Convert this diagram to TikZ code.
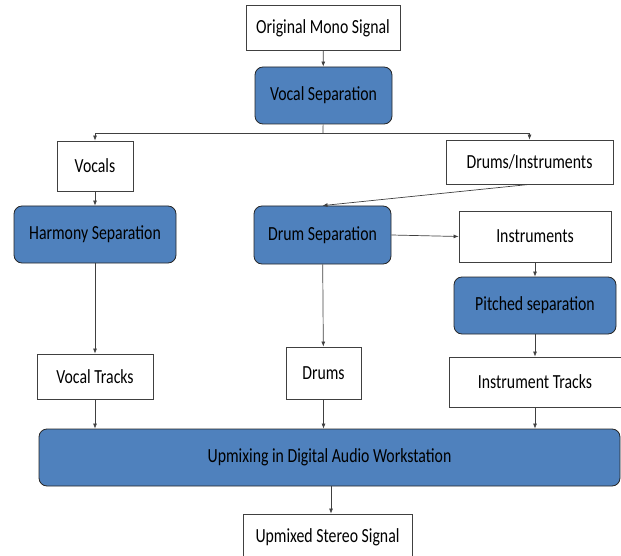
\documentclass[tikz,border=0pt]{standalone}
\usepackage{fontspec}
\setmainfont{Carlito}[FakeStretch=0.79]
\usetikzlibrary{arrows.meta}
\definecolor{boxblue}{HTML}{4F81BD}
\definecolor{linegray}{HTML}{404040}

\begin{document}
\begin{tikzpicture}[x=1pt, y=-1pt,
    plainbox/.style={draw=linegray, fill=white, line width=0.8pt, inner sep=0pt,
      font=\fontsize{20}{22}\selectfont},
    sepbox/.style={plainbox, draw=black!85, fill=boxblue, rounded corners=8pt},
    link/.style={draw=linegray, line width=0.7pt, -{Latex[length=5pt,width=4pt]}}]
      \useasboundingbox (0,0) rectangle (621,556);
      %
      \node[plainbox, minimum width=154pt, minimum height=45pt] (orig) at (323,28) {Original Mono Signal}; % top
      \node[sepbox, minimum width=137pt, minimum height=57pt] (vsep) at (323.5,95.5) {Vocal Separation};
      %
      \node[plainbox, minimum width=76pt, minimum height=50pt] (vocals) at (95,166) {Vocals};       % first split
      \node[plainbox, minimum width=167pt, minimum height=44pt] (druminst) at (529.5,162) {Drums/Instruments};
      %
      \node[sepbox, minimum width=162pt, minimum height=57pt] (harm) at (95,234.5) {Harmony Separation}; % second row
      \node[sepbox, minimum width=137pt, minimum height=58pt] (dsep) at (322.5,235) {Drum Separation};
      \node[plainbox, minimum width=152pt, minimum height=51pt] (instr) at (535,236.5) {Instruments};
      \node[sepbox, minimum width=162pt, minimum height=57pt] (pitched) at (535,305.5) {Pitched separation};
      %
      \node[plainbox, minimum width=116pt, minimum height=45pt] (vtracks) at (95,376.5) {Vocal Tracks}; % tracks
      \node[plainbox, minimum width=75pt, minimum height=52pt] (drums) at (323.5,373) {Drums};
      \node[plainbox, minimum width=172pt, minimum height=50pt] (itracks) at (535,382) {Instrument Tracks};
      %
      \node[sepbox, minimum width=581pt, minimum height=57pt] (upmix) at (329.5,457.5) {Upmixing in Digital Audio Workstation}; % bottom
      \node[plainbox, minimum width=169pt, minimum height=46pt] (stereo) at (327.5,537) {Upmixed Stereo Signal};
      %
      \coordinate (split) at (323,133);
      \draw[link] (orig) -- (vsep);
      \draw[linegray, line width=0.7pt] (vsep) -- (split);
      \draw[link] (split) -| (vocals);
      \draw[link] (split) -| (druminst);
      %%
      \draw[link] (vocals) -- (harm);
      \draw[link] (druminst.south) -- (dsep.north);
      \draw[link] (dsep.east) -- (instr.west);
      \draw[link] (instr) -- (pitched);
      %%
      \draw[link] (harm) -- (vtracks);
      \draw[link] (dsep) -- (drums);
      \draw[link] (pitched) -- (itracks);
      %%
      \draw[link] (vtracks) -- (vtracks |- upmix.north);
      \draw[link] (drums) -- (drums |- upmix.north);
      \draw[link] (itracks) -- (itracks |- upmix.north);
      \draw[link] (upmix.south -| 331,0) -- (stereo.north -| 331,0);
      %
    \end{tikzpicture}
\end{document}
